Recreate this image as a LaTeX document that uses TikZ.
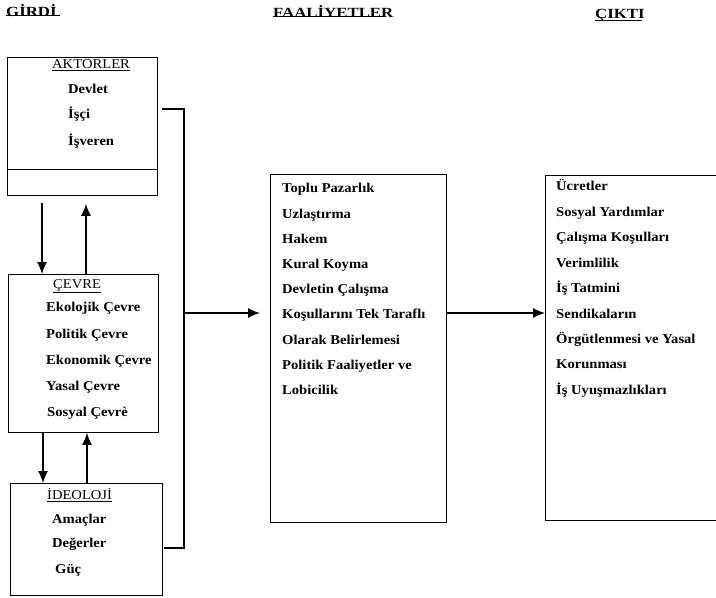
\documentclass[tikz,border=0pt]{standalone}
\usepackage{fontspec}
\setmainfont{Liberation Serif}[FakeStretch=1.08]
\usetikzlibrary{arrows.meta}
\begin{document}
\begin{tikzpicture}[x=1pt,y=-1pt,
  box/.style={draw, line width=0.9pt, inner sep=0pt, anchor=north west},
  itm/.style={anchor=mid west, inner sep=0pt, font=\fontsize{13.5}{16}\selectfont\bfseries},
  ttl/.style={anchor=mid west, inner sep=0pt, font=\fontsize{13.5}{16}\selectfont},
  hd/.style={anchor=mid west, inner sep=0pt, font=\fontsize{14}{16}\selectfont\bfseries\addfontfeature{FakeStretch=1.2}},
  uline/.style={line width=1.6pt},
  arr/.style={-{Latex[length=12pt,width=10pt]}, line width=1.2pt},
  con/.style={line width=1.2pt}]
\useasboundingbox (0,0) rectangle (716,598);

% headings
\node[hd] (h1) at (6,14) {GİRDİ};
\node[hd] (h2) at (273,15) {FAALİYETLER};
\node[hd] (h3) at (595,16) {ÇIKTI};
\draw[uline] (h1.south west) ++(0,-1) -- ++(54,0);
\draw[uline] (h2.south west) ++(0,-1) -- ++(111,0);
\draw[uline] (h3.south west) ++(0,-1) -- ++(47,0);

% boxes
\node[box, minimum width=150pt, minimum height=138pt] (aktor) at (7,57) {};
\draw[line width=0.9pt] (aktor.west |- 0,169) -- (aktor.east |- 0,169);
\node[box, minimum width=150pt, minimum height=158pt] (cevre) at (8,274) {};
\node[box, minimum width=152pt, minimum height=112pt] (ideo) at (10,483) {};
\node[box, minimum width=176pt, minimum height=348pt] (faal) at (270,174) {};
\node[anchor=north west, inner sep=0pt, minimum width=171pt, minimum height=345pt] (cikti) at (545,175) {};
\draw[line width=0.9pt] (cikti.north east) -- (cikti.north west) -- (cikti.south west) -- (cikti.south east);

% AKTÖRLER
\node[ttl] (t1) at (52,66) {\underline{AKTÖRLER}};
\node[itm] (a1) at (68,91) {Devlet};
\node[itm] (a2) at (68,116) {İşçi};
\node[itm] (a3) at (68,143) {İşveren};

% ÇEVRE
\node[ttl] (t2) at (53,286) {\underline{ÇEVRE}};
\node[itm] (c1) at (46,309) {Ekolojik Çevre};
\node[itm] (c2) at (46,336) {Politik Çevre};
\node[itm] (c3) at (46,362) {Ekonomik Çevre};
\node[itm] (c4) at (46,388) {Yasal Çevre};
\node[itm] (c5) at (47,414) {Sosyal Çevrè};

% İDEOLOJİ
\node[ttl] (t3) at (47,497) {\underline{İDEOLOJİ}};
\node[itm] (i1) at (52,521) {Amaçlar};
\node[itm] (i2) at (52,545) {Değerler};
\node[itm] (i3) at (55,571) {Güç};

% FAALİYETLER items
\node[itm] (f1) at (282,190) {Toplu Pazarlık};
\node[itm] (f2) at (282,216) {Uzlaştırma};
\node[itm] (f3) at (282,241) {Hakem};
\node[itm] (f4) at (282,266) {Kural Koyma};
\node[itm] (f5) at (282,291) {Devletin Çalışma};
\node[itm] (f6) at (282,316) {Koşullarını Tek Taraflı};
\node[itm] (f7) at (282,342) {Olarak Belirlemesi};
\node[itm] (f8) at (282,367) {Politik Faaliyetler ve};
\node[itm] (f9) at (282,392) {Lobicilik};

% ÇIKTI items
\node[itm] (o1) at (556,188) {Ücretler};
\node[itm] (o2) at (556,214) {Sosyal Yardımlar};
\node[itm] (o3) at (556,239) {Çalışma Koşulları};
\node[itm] (o4) at (556,265) {Verimlilik};
\node[itm] (o5) at (556,290) {İş Tatmini};
\node[itm] (o6) at (556,316) {Sendikaların};
\node[itm] (o7) at (556,341) {Örgütlenmesi ve Yasal};
\node[itm] (o8) at (556,366) {Korunması};
\node[itm] (o9) at (556,392) {İş Uyuşmazlıkları};

% vertical arrows on the left
\draw[arr] ([xshift=35pt,yshift=-7pt]aktor.south west) -- ([xshift=34pt]cevre.north west);
\draw[arr] ([xshift=78pt]cevre.north west) -- ([xshift=79pt,yshift=-8pt]aktor.south west);
\draw[arr] ([xshift=35pt]cevre.south west) -- ([xshift=33pt]ideo.north west);
\draw[arr] ([xshift=77pt]ideo.north west) -- ([xshift=79pt]cevre.south west);

% collecting connector
\coordinate (j1) at (184,109);
\coordinate (j2) at (184,548);
\coordinate (j3) at (184,313);
\draw[con] ([xshift=4pt]aktor.east |- j1) -- (j1) -- (j2) -- ([xshift=1pt]ideo.east |- j2);
\draw[arr, shorten >=10pt] (j3) -- (faal.west |- j3);
\draw[arr] (faal.east |- 0,313) -- (cikti.west |- 0,313);
\end{tikzpicture}
\end{document}
